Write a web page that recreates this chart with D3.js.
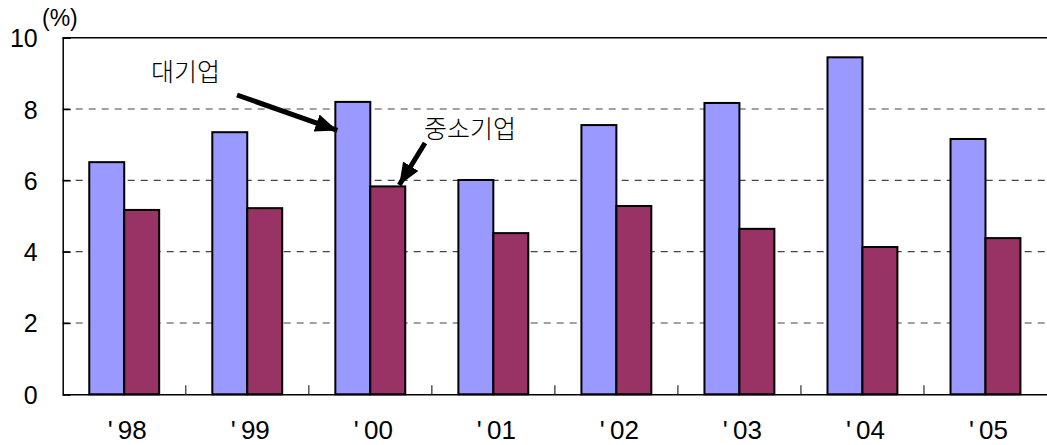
<!DOCTYPE html>
<html>
<head>
<meta charset="utf-8">
<script src="https://cdn.jsdelivr.net/npm/d3@7"></script>
<style>
  body { margin: 0; background: #fff; }
  svg text { font-family: "Liberation Sans", Arial, sans-serif; fill: #000; }
  .kr { font-family: "Noto Sans CJK KR", "Noto Sans", sans-serif; font-weight: 300; }
</style>
</head>
<body>
<svg id="chart"></svg>
<script>
// data
const years = ["'98", "'99", "'00", "'01", "'02", "'03", "'04", "'05"]
const large = [6.51, 7.35, 8.20, 6.01, 7.55, 8.17, 9.45, 7.16]   // 대기업
const small = [5.17, 5.22, 5.83, 4.52, 5.28, 4.64, 4.13, 4.38]   // 중소기업
const yTicks = [0, 2, 4, 6, 8, 10]

const W = 1047, H = 445
const margin = { top: 37.7, right: 0, bottom: 50.7, left: 62.7 }

const svg = d3.select("#chart").attr("width", W).attr("height", H)

// scales
const x = d3.scaleBand()
            .domain(years)
            .range([margin.left, W - margin.right])

const xSub = d3.scaleBand()
               .domain(["large", "small"])
               .range([0, x.bandwidth()])
               .paddingOuter(0.76)

const y = d3.scaleLinear()
            .domain([0, 10])
            .range([H - margin.bottom, margin.top])

// dashed grid lines
svg.append("g")
   .selectAll("line")
   .data(yTicks.filter(d => d > 0 && d < 10))
   .enter()
   .append("line")
   .attr("x1", margin.left).attr("x2", W)
   .attr("y1", d => y(d)).attr("y2", d => y(d))
   .style("stroke", "#444")
   .style("stroke-width", 1.2)
   .style("stroke-dasharray", "7,6")

// top border
svg.append("line")
   .attr("x1", margin.left).attr("x2", W)
   .attr("y1", y(10)).attr("y2", y(10))
   .style("stroke", "#000").style("stroke-width", 1.5)

// bars
const rows = years.map((d, i) => ({ year: d, large: large[i], small: small[i] }))
const colors = { large: "#9999FF", small: "#993366" }

const groups = svg.append("g")
                  .selectAll("g")
                  .data(rows)
                  .enter()
                  .append("g")
                  .attr("transform", d => "translate(" + x(d.year) + ",0)")

groups.selectAll("rect")
      .data(d => ["large", "small"].map(k => ({ key: k, value: d[k] })))
      .enter()
      .append("rect")
      .attr("x", d => xSub(d.key))
      .attr("width", xSub.bandwidth())
      .attr("y", d => y(d.value))
      .attr("height", d => y(0) - y(d.value))
      .style("fill", d => colors[d.key])
      .style("stroke", "#000")
      .style("stroke-width", 2)

// y axis, ticks pointing inward
const yAxis = svg.append("g")
   .attr("transform", "translate(" + margin.left + ",0)")
   .call(d3.axisLeft(y).tickValues(yTicks).tickSize(-8).tickPadding(25))
yAxis.select(".domain").style("stroke-width", 1.5)
yAxis.selectAll("line").style("stroke-width", 1.5)
yAxis.selectAll("text").style("font-size", "25px").attr("dy", "0.36em")

// x axis: baseline and inward ticks between categories
const xAxis = svg.append("g")
   .attr("transform", "translate(0," + y(0) + ")")
   .call(d3.axisBottom(x).tickSize(0).tickPadding(32))
xAxis.select(".domain").style("stroke-width", 1.5)
xAxis.selectAll("text")
     .style("font-size", "26px")
     .attr("dy", "0.5em").attr("dx", "3px")
     .text(d => "'" + "\u2009" + d.slice(1))

svg.append("g")
   .selectAll("line")
   .data(years.slice(1))
   .enter()
   .append("line")
   .attr("x1", d => x(d)).attr("x2", d => x(d))
   .attr("y1", y(0)).attr("y2", y(0) - 9)
   .style("stroke", "#555").style("stroke-width", 1.5)

// unit
svg.append("text")
   .attr("x", 42).attr("y", 26)
   .style("font-size", "23px")
   .text("(%)")

// annotations with arrows
svg.append("defs").append("marker")
   .attr("id", "head")
   .attr("markerUnits", "userSpaceOnUse")
   .attr("viewBox", "0 0 22 18")
   .attr("refX", 22).attr("refY", 9)
   .attr("markerWidth", 22).attr("markerHeight", 18)
   .attr("orient", "auto")
   .append("path")
   .attr("d", "M0,0 L22,9 L0,18 Z")
   .style("fill", "#000")

const barLeft = x("'00") + xSub("large")
const barSmallRight = x("'00") + xSub("small") + xSub.bandwidth()

svg.append("text").attr("class", "kr")
   .attr("x", 151).attr("y", 81)
   .style("font-size", "25px")
   .text("대기업")

svg.append("line")
   .attr("x1", 237).attr("y1", 95)
   .attr("x2", barLeft + 2).attr("y2", y(7.4))
   .style("stroke", "#000").style("stroke-width", 5)
   .attr("marker-end", "url(#head)")

svg.append("text").attr("class", "kr")
   .attr("x", 424).attr("y", 138)
   .style("font-size", "25px")
   .text("중소기업")

svg.append("line")
   .attr("x1", 425).attr("y1", 143)
   .attr("x2", barSmallRight - 6).attr("y2", y(5.87))
   .style("stroke", "#000").style("stroke-width", 5)
   .attr("marker-end", "url(#head)")
</script>
</body>
</html>
